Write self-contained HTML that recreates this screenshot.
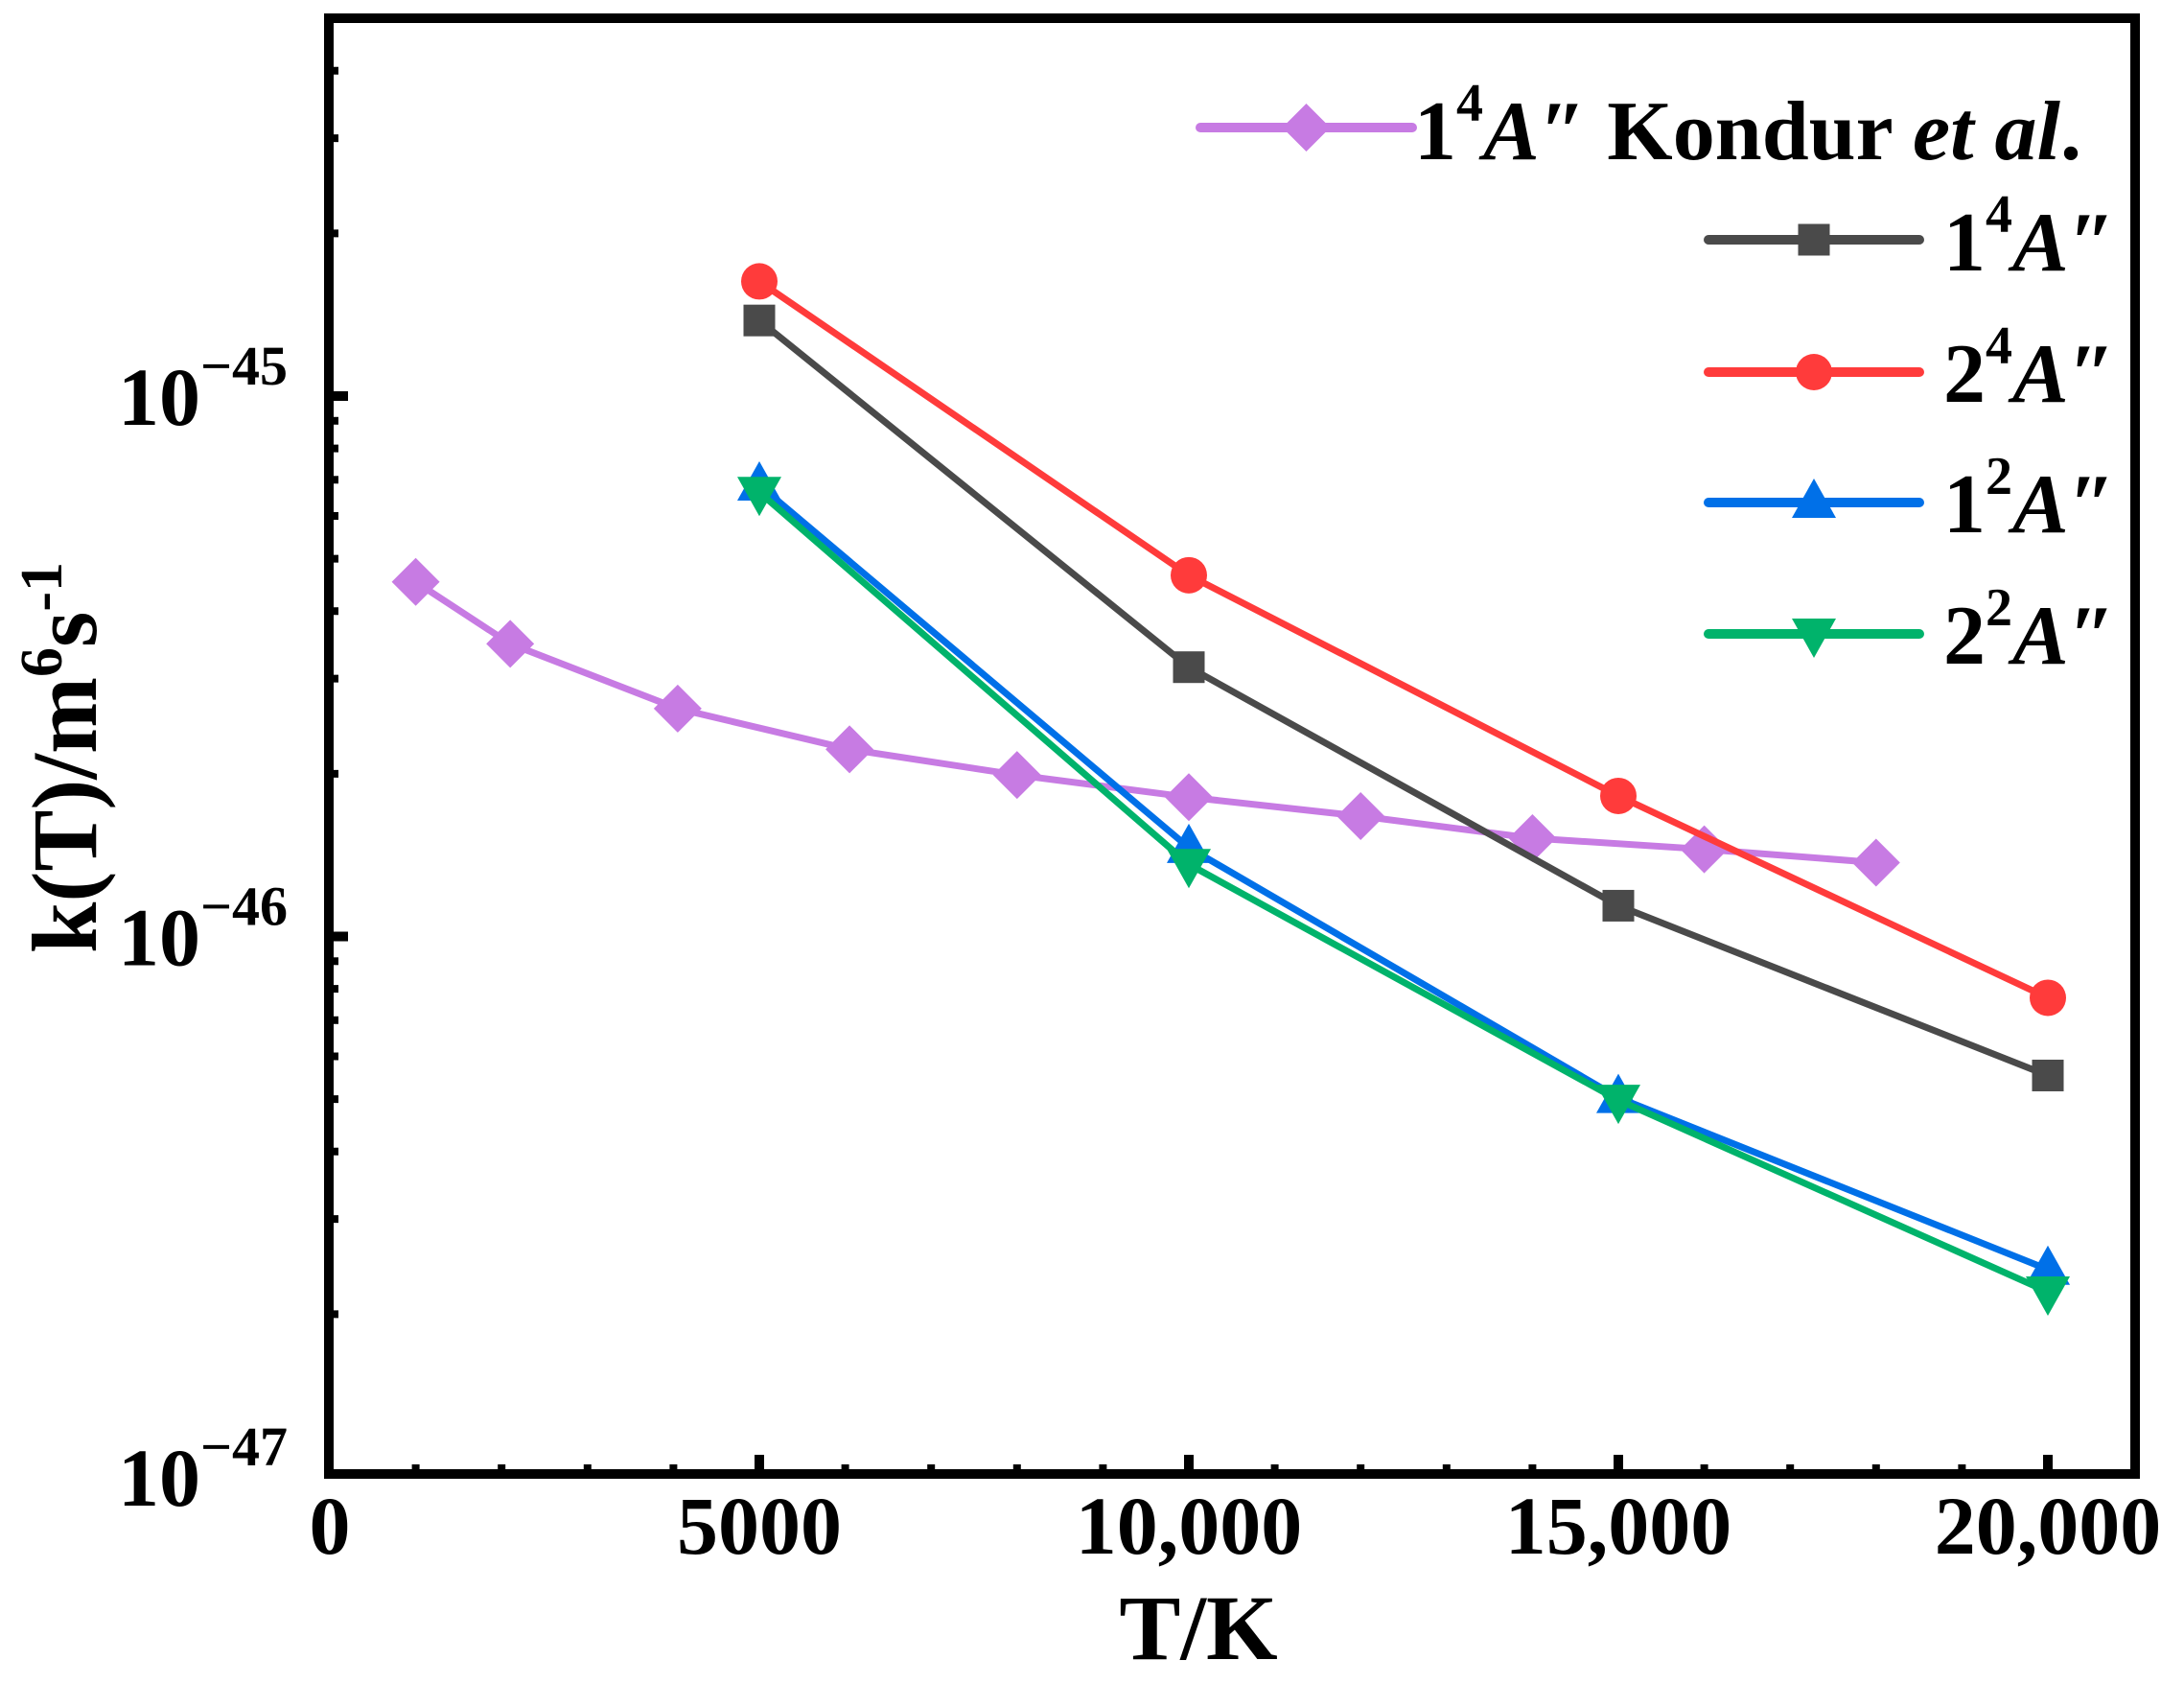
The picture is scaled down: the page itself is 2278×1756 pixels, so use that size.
<!DOCTYPE html>
<html><head><meta charset="utf-8"><style>
html,body{margin:0;padding:0;background:#fff;}
svg{display:block;font-family:"Liberation Serif",serif;font-weight:bold;}
</style></head><body>
<svg id="chart" width="2278" height="1756" viewBox="0 0 2278 1756" xmlns="http://www.w3.org/2000/svg">
<g id="grid"></g>
<g id="series"></g>
<g id="legend"></g>
</svg>
<script>
const xTicks = [0, 5000, 10000, 15000, 20000];
const xTickLabels = ["0", "5000", "10,000", "15,000", "20,000"];
const yDecades = [-45, -46, -47];
const T4 = [5000, 10000, 15000, 20000];
const black14 = [1.38e-45, 3.15e-46, 1.14e-46, 5.53e-47];
const red24 = [1.63e-45, 4.66e-46, 1.82e-46, 7.7e-47];
const blue12 = [6.84e-46, 1.46e-46, 5.03e-47, 2.42e-47];
const green22 = [6.64e-46, 1.36e-46, 4.98e-47, 2.2e-47];
const Tkondur = [1000, 2100, 4050, 6050, 8000, 10000, 12000, 14000, 16000, 18000];
const kondur = [4.53e-46, 3.48e-46, 2.64e-46, 2.22e-46, 1.99e-46, 1.81e-46, 1.67e-46, 1.52e-46, 1.45e-46, 1.37e-46];

const NS = "http://www.w3.org/2000/svg";
const L = 343, R = 2227, TOP = 19, B = 1537;
const x0 = 344, x20k = 2136;
function X(t){ return x0 + t*(x20k - x0)/20000; }
function Y(v){ return 413 + (-45 - Math.log10(v))*563.5; }
function mk(tag, attrs, parent){
  const e = document.createElementNS(NS, tag);
  for (const k in attrs) e.setAttribute(k, attrs[k]);
  (parent||document.getElementById('chart')).appendChild(e);
  return e;
}
const grid = document.getElementById('grid');
const frame = mk('rect', {x:L, y:TOP, width:R-L, height:B-TOP, fill:'none', stroke:'#000', 'stroke-width':10}, grid);


for (let t = 1000; t <= 20000; t += 1000) {
  const major = t % 5000 === 0;
  const tk = mk('line', {x1:X(t), x2:X(t), y1:B, y2:B-(major?20:10), stroke:'#000', 'stroke-width':major?10:8}, grid);
  
  
}
xTicks.forEach((t, i) => {
  const tx = mk('text', {x:X(t), y:1620, 'text-anchor':'middle', 'font-size':86}, grid);
  tx.textContent = xTickLabels[i];
  
  
});
for (let d = -47; d < -44; d++) {
  for (let m = 1; m <= 9; m++) {
    const v = m * Math.pow(10, d);
    const yy = Y(v);
    if (yy < TOP + 5 || yy > B - 5) continue;
    const tk = mk('line', {x1:L, x2:L+(m===1?20:10), y1:yy, y2:yy, stroke:'#000', 'stroke-width':m===1?10:8}, grid);
    
    
  }
}
yDecades.forEach(d => {
  const yy = Y(Math.pow(10, d));
  const tx = mk('text', {x:300, y:yy+30, 'text-anchor':'end', 'font-size':86}, grid);
  const a = mk('tspan', {}, tx); a.textContent = '10';
  const b = mk('tspan', {dy:-42, 'font-size':58}, tx); b.textContent = '\u2212' + (-d);
  
  
});
const xt = mk('text', {x:1250, y:1730, 'text-anchor':'middle', 'font-size':96}, grid);
xt.textContent = 'T/K';


const yt = mk('text', {x:0, y:0, 'text-anchor':'middle', 'font-size':96, transform:'translate(100,790) rotate(-90)'}, grid);
const y1 = mk('tspan', {}, yt); y1.textContent = 'k(T)/m';
const y2 = mk('tspan', {dy:-36, 'font-size':62}, yt); y2.textContent = '6';
const y3 = mk('tspan', {dy:36}, yt); y3.textContent = 's';
const y4 = mk('tspan', {dy:-36, 'font-size':62}, yt); y4.textContent = '-1';



function marker(shape, cx, cy, color, parent){
  let e;
  if (shape === 'square') e = mk('rect', {x:cx-16.5, y:cy-16.5, width:33, height:33, fill:color}, parent);
  else if (shape === 'circle') e = mk('circle', {cx:cx, cy:cy, r:19, fill:color}, parent);
  else if (shape === 'up') e = mk('polygon', {points:`${cx},${cy-25} ${cx+23},${cy+16} ${cx-23},${cy+16}`, fill:color}, parent);
  else if (shape === 'down') e = mk('polygon', {points:`${cx},${cy+25} ${cx+23},${cy-16} ${cx-23},${cy-16}`, fill:color}, parent);
  else e = mk('polygon', {points:`${cx},${cy-25} ${cx+25},${cy} ${cx},${cy+25} ${cx-25},${cy}`, fill:color}, parent);
  return e;
}
const seriesG = document.getElementById('series');
const seriesDefs = [
  {name:'kondur', xs:Tkondur, ys:kondur, color:'#c77be3', shape:'diamond'},
  {name:'1-4A', xs:T4, ys:black14, color:'#4a4a4a', shape:'square'},
  {name:'2-4A', xs:T4, ys:red24, color:'#ff3b3b', shape:'circle'},
  {name:'1-2A', xs:T4, ys:blue12, color:'#0070e8', shape:'up'},
  {name:'2-2A', xs:T4, ys:green22, color:'#00b36b', shape:'down'}
];
seriesDefs.forEach(s => {
  const g = mk('g', {}, seriesG);
  
  
  const pts = s.xs.map((t, i) => X(t) + ',' + Y(s.ys[i])).join(' ');
  const pl = mk('polyline', {points:pts, fill:'none', stroke:s.color, 'stroke-width':7, 'stroke-linejoin':'round'}, g);
  
  
  s.xs.forEach((t, i) => {
    const m = marker(s.shape, X(t), Y(s.ys[i]), s.color, g);
    
    
  });
});
const lg = document.getElementById('legend');
const legRows = [
  {y:133, x1:1252, x2:1473, tx:1475, ty:166, s:seriesDefs[0], pre:'1', sup:'4', extra:true},
  {y:250, x1:1782, x2:2002, tx:2027, ty:282, s:seriesDefs[1], pre:'1', sup:'4'},
  {y:388, x1:1782, x2:2002, tx:2027, ty:419, s:seriesDefs[2], pre:'2', sup:'4'},
  {y:524, x1:1782, x2:2002, tx:2027, ty:555, s:seriesDefs[3], pre:'1', sup:'2'},
  {y:661, x1:1782, x2:2002, tx:2027, ty:692, s:seriesDefs[4], pre:'2', sup:'2'}
];
legRows.forEach(r => {
  const g = mk('g', {}, lg);
  
  
  mk('line', {x1:r.x1, x2:r.x2, y1:r.y, y2:r.y, stroke:r.s.color, 'stroke-width':10, 'stroke-linecap':'round'}, g);
  marker(r.s.shape, (r.x1+r.x2)/2, r.y, r.s.color, g);
  const t = mk('text', {x:r.tx, y:r.ty, 'font-size':88}, g);
  const a = mk('tspan', {}, t); a.textContent = r.pre;
  const b = mk('tspan', {dy:-40, 'font-size':56}, t); b.textContent = r.sup;
  const c = mk('tspan', {dy:40, 'font-style':'italic'}, t); c.textContent = 'A\u2033';
  if (r.extra) {
    const d = mk('tspan', {}, t); d.textContent = ' Kondur ';
    const e = mk('tspan', {'font-style':'italic'}, t); e.textContent = 'et al';
    const f = mk('tspan', {}, t); f.textContent = '.';
  }
});
</script>
</body></html>
